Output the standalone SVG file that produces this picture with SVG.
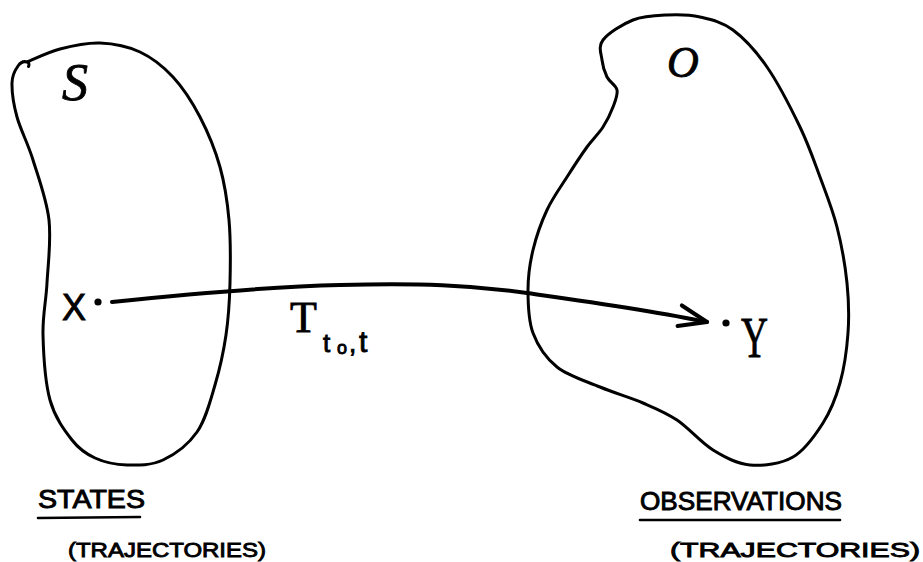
<svg xmlns="http://www.w3.org/2000/svg" width="923" height="562" viewBox="0 0 923 562">
<style>
.blob{fill:none;stroke:#000;stroke-width:3;stroke-linejoin:round;stroke-linecap:round}
.conn{fill:none;stroke:#000;stroke-width:4;stroke-linecap:round}
.ul{fill:none;stroke:#000;stroke-width:2.6;stroke-linecap:round}
.cap{font-family:"Liberation Sans",Arial,sans-serif;fill:#000;stroke:#000;stroke-width:0.9}
.math{font-family:"Liberation Serif","Times New Roman",serif;fill:#000;stroke:#000;stroke-width:0.8}
.dot{fill:#000}
</style>
<defs>
<marker id="ah" markerUnits="userSpaceOnUse" markerWidth="40" markerHeight="30" viewBox="-35 -15 40 30" refX="0" refY="0" orient="auto" overflow="visible">
<path d="M-28,-11 L0,0 L-28,10" fill="none" stroke="#000" stroke-width="4" stroke-linejoin="round" stroke-linecap="round"/>
</marker>
</defs>
<rect width="923" height="562" fill="#fff"/>
<g id="states">
<path class="blob" d="M27,62 C34,59.2 47.8,52.2 60,49 C72.2,45.8 86.7,42.5 100,43 C113.3,43.5 127.8,46.3 140,52 C152.2,57.7 163,66.2 173,77 C183,87.8 192.2,102 200,117 C207.8,132 215.2,149.8 220,167 C224.8,184.2 227.3,200.7 229,220 C230.7,239.3 230.5,263.8 230,283 C229.5,302.2 228.5,318 226,335 C223.5,352 219.8,368.8 215,385 C210.2,401.2 205.7,419.5 197,432 C188.3,444.5 174.7,454.5 163,460 C151.3,465.5 138.3,465.3 127,465 C115.7,464.7 104.2,462.2 95,458 C85.8,453.8 79.5,449.7 72,440 C64.5,430.3 54.8,417.5 50,400 C45.2,382.5 43.5,354.5 43,335 C42.5,315.5 46,302.2 47,283 C48,263.8 51.3,240.5 49,220 C46.7,199.5 38.3,177.2 33,160 C27.7,142.8 20.5,129.8 17,117 C13.5,104.2 11.8,91.5 12,83 C12.2,74.5 15.5,69.5 18,66 C20.5,62.5 24,61 27,62 C29,62.5 29.5,64.5 28.5,66.5"/>
<text class="math" x="62" y="100" font-size="52" font-style="italic">S</text>
<text class="cap" x="62" y="320" font-size="36">X</text>
<circle class="dot" cx="98" cy="302" r="3.6"/>
<text class="cap" x="38" y="508" font-size="25" textLength="107" lengthAdjust="spacingAndGlyphs">STATES</text>
<path class="ul" d="M38,518 L140,517"/>
<text class="cap" x="68" y="557" font-size="21" textLength="198" lengthAdjust="spacingAndGlyphs">(TRAJECTORIES)</text>
</g>
<g id="observations">
<path class="blob" d="M603,40 C608.2,33.3 622.3,24.2 633,20 C643.7,15.8 655.8,15.5 667,15 C678.2,14.5 689,14.5 700,17 C711,19.5 721.8,21.7 733,30 C744.2,38.3 755.8,50.8 767,67 C778.2,83.2 791.2,108.7 800,127 C808.8,145.3 813.8,160.3 820,177 C826.2,193.7 832.5,209.3 837,227 C841.5,244.7 845.2,265.3 847,283 C848.8,300.7 849.2,316.3 848,333 C846.8,349.7 844.2,368 840,383 C835.8,398 830.8,410.7 823,423 C815.2,435.3 805.2,450 793,457 C780.8,464 763.3,466.2 750,465 C736.7,463.8 725.2,457.5 713,450 C700.8,442.5 688.7,427.8 677,420 C665.3,412.2 655.8,408.5 643,403 C630.2,397.5 614.3,393 600,387 C585.7,381 568.2,376 557,367 C545.8,358 537.8,345.8 533,333 C528.2,320.2 528,303.8 528,290 C528,276.2 529.8,263.3 533,250 C536.2,236.7 541.3,222.2 547,210 C552.7,197.8 560.3,187.5 567,177 C573.7,166.5 581,155.3 587,147 C593,138.7 598.7,133.7 603,127 C607.3,120.3 610.7,113.2 613,107 C615.3,100.8 618,95 617,90 C616,85 609.5,82 607,77 C604.5,72 602.7,66.2 602,60 C601.3,53.8 597.8,46.7 603,40 Z"/>
<text class="math" x="667" y="77" font-size="44" font-style="italic">O</text>
<circle class="dot" cx="726" cy="323" r="3.6"/>
<text class="math" x="741" y="357" font-size="56" textLength="27" lengthAdjust="spacingAndGlyphs">Y</text>
<text class="cap" x="640" y="510" font-size="25" textLength="202" lengthAdjust="spacingAndGlyphs">OBSERVATIONS</text>
<path class="ul" d="M640,520 L840,520"/>
<text class="cap" x="670" y="557" font-size="21" textLength="250" lengthAdjust="spacingAndGlyphs">(TRAJECTORIES)</text>
</g>
<g id="connectors">
<path class="conn" d="M112,302 C170,296 260,287 340,285 S470,285 527,293 S650,310 707,322" marker-end="url(#ah)"/>
<text class="math" x="290" y="332" font-size="44">T</text>
<text class="cap" font-size="26"><tspan x="323" y="352">t</tspan><tspan x="337" y="354" font-size="18">o</tspan><tspan x="349" y="352">,</tspan><tspan x="359" y="352" font-size="30">t</tspan></text>
</g>
</svg>
